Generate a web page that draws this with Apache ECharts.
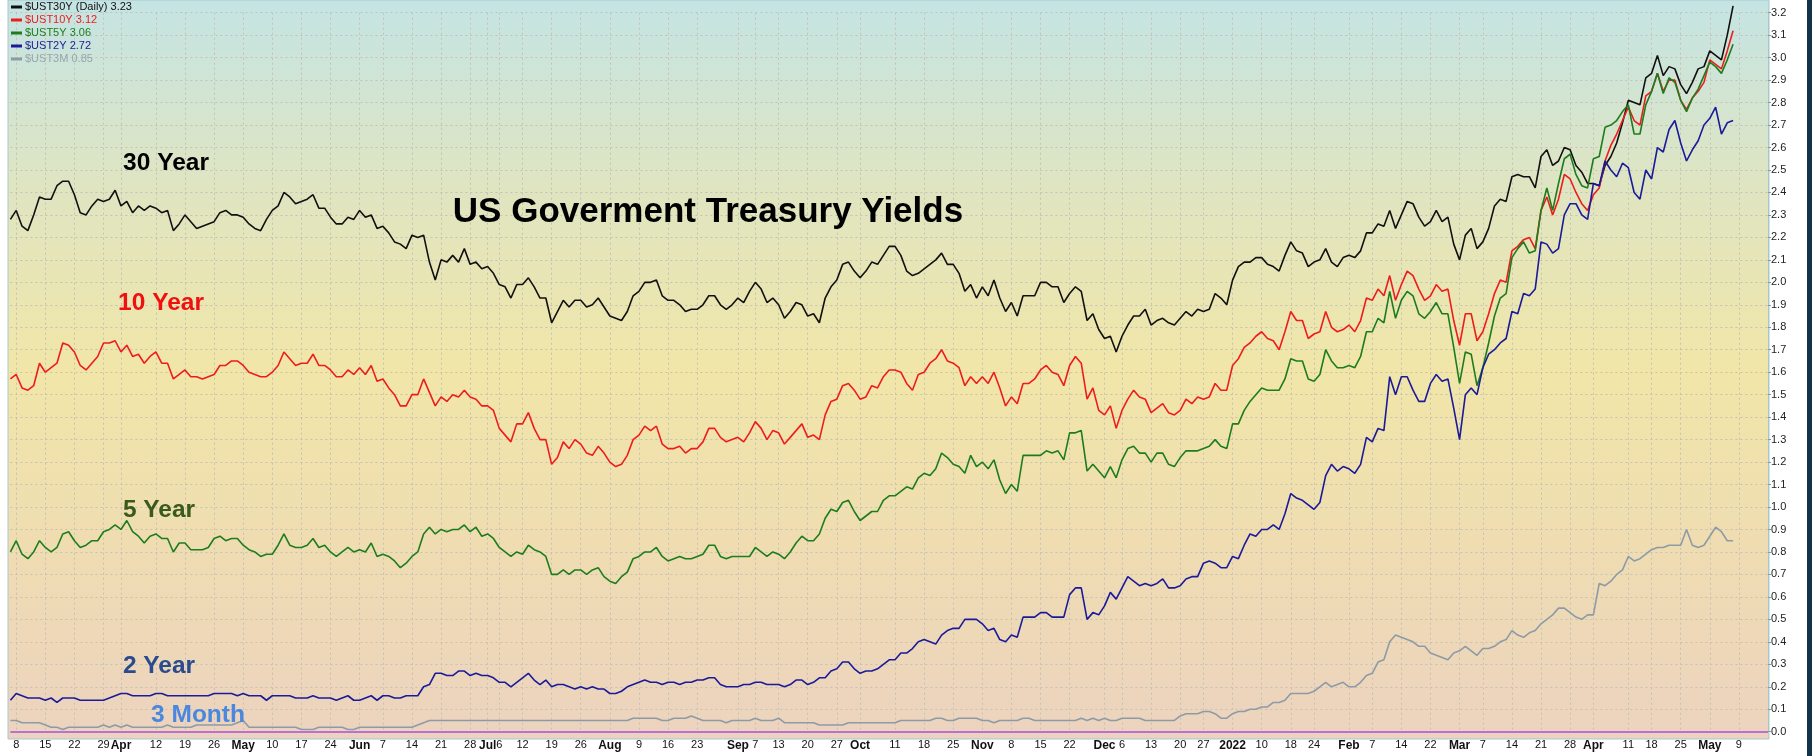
<!DOCTYPE html>
<html>
<head>
<meta charset="utf-8">
<title>US Goverment Treasury Yields</title>
<script src="https://cdn.jsdelivr.net/npm/echarts@6/dist/echarts.min.js"></script>
<style>
  html, body { margin: 0; padding: 0; background: #ffffff; }
  #chart { width: 1812px; height: 756px; }
</style>
</head>
<body>
<div id="chart"></div>
<script>
// Trading calendar: weekdays from 2021-03-05 through 2022-05-16, minus market holidays
const startDate = '2021-03-05';
const endDate = '2022-05-16';
const holidays = ['2021-04-02', '2021-05-31', '2021-07-05', '2021-09-06', '2021-11-25',
  '2021-12-24', '2022-01-17', '2022-02-21', '2022-04-15'];

// Week-start / month-start tick labels on the date axis
const tickLabels = [
  ['2021-03-08', '8'], ['2021-03-15', '15'], ['2021-03-22', '22'], ['2021-03-29', '29'],
  ['2021-04-01', 'Apr'], ['2021-04-12', '12'], ['2021-04-19', '19'], ['2021-04-26', '26'],
  ['2021-05-03', 'May'], ['2021-05-10', '10'], ['2021-05-17', '17'], ['2021-05-24', '24'],
  ['2021-06-01', 'Jun'], ['2021-06-07', '7'], ['2021-06-14', '14'], ['2021-06-21', '21'], ['2021-06-28', '28'],
  ['2021-07-01', 'Jul'], ['2021-07-06', '6'], ['2021-07-12', '12'], ['2021-07-19', '19'], ['2021-07-26', '26'],
  ['2021-08-02', 'Aug'], ['2021-08-09', '9'], ['2021-08-16', '16'], ['2021-08-23', '23'],
  ['2021-09-01', 'Sep'], ['2021-09-07', '7'], ['2021-09-13', '13'], ['2021-09-20', '20'], ['2021-09-27', '27'],
  ['2021-10-01', 'Oct'], ['2021-10-11', '11'], ['2021-10-18', '18'], ['2021-10-25', '25'],
  ['2021-11-01', 'Nov'], ['2021-11-08', '8'], ['2021-11-15', '15'], ['2021-11-22', '22'],
  ['2021-12-01', 'Dec'], ['2021-12-06', '6'], ['2021-12-13', '13'], ['2021-12-20', '20'], ['2021-12-27', '27'],
  ['2022-01-03', '2022'], ['2022-01-10', '10'], ['2022-01-18', '18'], ['2022-01-24', '24'],
  ['2022-02-01', 'Feb'], ['2022-02-07', '7'], ['2022-02-14', '14'], ['2022-02-22', '22'],
  ['2022-03-01', 'Mar'], ['2022-03-07', '7'], ['2022-03-14', '14'], ['2022-03-21', '21'], ['2022-03-28', '28'],
  ['2022-04-01', 'Apr'], ['2022-04-11', '11'], ['2022-04-18', '18'], ['2022-04-25', '25'],
  ['2022-05-02', 'May'], ['2022-05-09', '9']
];

// Daily closing yields (%), one row per trading week, starting Fri 2021-03-05
const ust30y = [
  2.28,
  2.32, 2.25, 2.23, 2.30, 2.38,
  2.37, 2.37, 2.43, 2.45, 2.45,
  2.39, 2.31, 2.30, 2.34, 2.37,
  2.36, 2.37, 2.41, 2.34,
  2.36, 2.31, 2.34, 2.32, 2.34,
  2.33, 2.31, 2.32, 2.23, 2.26,
  2.30, 2.27, 2.24, 2.25, 2.26,
  2.27, 2.31, 2.32, 2.30, 2.30,
  2.29, 2.26, 2.24, 2.23, 2.28,
  2.32, 2.34, 2.40, 2.38, 2.35,
  2.36, 2.37, 2.39, 2.33, 2.33,
  2.29, 2.26, 2.26, 2.29, 2.28,
  2.32, 2.29, 2.30, 2.24,
  2.25, 2.22, 2.18, 2.17, 2.15,
  2.21, 2.20, 2.21, 2.09, 2.01,
  2.10, 2.09, 2.12, 2.09, 2.15,
  2.08, 2.09, 2.06, 2.07, 2.04,
  1.99, 1.98, 1.93, 1.99,
  1.99, 2.02, 1.98, 1.93, 1.93,
  1.82, 1.87, 1.92, 1.89, 1.92,
  1.92, 1.89, 1.90, 1.93, 1.89,
  1.85, 1.84, 1.83, 1.87, 1.94,
  1.96, 2.00, 2.00, 2.01, 1.94,
  1.92, 1.92, 1.90, 1.87, 1.88,
  1.88, 1.90, 1.94, 1.94, 1.90,
  1.88, 1.90, 1.93, 1.91, 1.96,
  2.00, 1.97, 1.91, 1.93,
  1.90, 1.84, 1.87, 1.91, 1.90,
  1.85, 1.86, 1.82, 1.93, 1.98,
  2.01, 2.08, 2.09, 2.05, 2.02,
  2.05, 2.09, 2.08, 2.12, 2.16,
  2.16, 2.12, 2.05, 2.03, 2.04,
  2.06, 2.08, 2.10, 2.13, 2.08,
  2.08, 2.04, 1.96, 1.99, 1.93,
  1.98, 1.94, 2.01, 1.93, 1.87,
  1.91, 1.85, 1.94, 1.94, 1.94,
  2.00, 2.00, 1.98, 1.98, 1.91,
  1.95, 1.98, 1.96, 1.83,
  1.86, 1.79, 1.75, 1.76, 1.69,
  1.76, 1.81, 1.85, 1.85, 1.88,
  1.81, 1.83, 1.84, 1.82, 1.81,
  1.84, 1.87, 1.85, 1.88,
  1.87, 1.88, 1.95, 1.93, 1.90,
  2.01, 2.07, 2.09, 2.09, 2.11,
  2.11, 2.08, 2.07, 2.05, 2.12,
  2.18, 2.14, 2.13, 2.07,
  2.09, 2.10, 2.15, 2.09, 2.07,
  2.11, 2.12, 2.11, 2.14, 2.22,
  2.22, 2.26, 2.25, 2.32, 2.24,
  2.30, 2.36, 2.35, 2.29, 2.25,
  2.27, 2.32, 2.27, 2.29,
  2.17, 2.10, 2.21, 2.24, 2.15,
  2.18, 2.24, 2.34, 2.37, 2.36,
  2.47, 2.48, 2.47, 2.47, 2.42,
  2.56, 2.59, 2.52, 2.54, 2.60,
  2.59, 2.52, 2.49, 2.44, 2.44,
  2.43, 2.52, 2.56, 2.62, 2.71,
  2.81, 2.80, 2.79, 2.91,
  2.93, 3.01, 2.92, 2.96, 2.95,
  2.88, 2.84, 2.89, 2.95, 2.96,
  3.03, 3.01, 2.99, 3.10, 3.23
];

const ust10y = [
  1.57,
  1.59, 1.53, 1.52, 1.54, 1.64,
  1.60, 1.62, 1.64, 1.73, 1.72,
  1.69, 1.63, 1.61, 1.64, 1.67,
  1.73, 1.73, 1.74, 1.69,
  1.72, 1.67, 1.68, 1.64, 1.67,
  1.69, 1.64, 1.64, 1.57, 1.59,
  1.61, 1.58, 1.58, 1.57, 1.58,
  1.59, 1.63, 1.63, 1.65, 1.65,
  1.63, 1.60, 1.59, 1.58, 1.58,
  1.60, 1.63, 1.69, 1.66, 1.63,
  1.64, 1.64, 1.68, 1.63, 1.63,
  1.61, 1.58, 1.58, 1.61, 1.59,
  1.62, 1.59, 1.63, 1.56,
  1.57, 1.53, 1.50, 1.45, 1.45,
  1.50, 1.50, 1.57, 1.51, 1.45,
  1.49, 1.47, 1.50, 1.49, 1.52,
  1.49, 1.48, 1.45, 1.45, 1.43,
  1.35, 1.32, 1.29, 1.37,
  1.37, 1.42, 1.35, 1.30, 1.30,
  1.19, 1.22, 1.29, 1.26, 1.30,
  1.28, 1.24, 1.23, 1.27, 1.24,
  1.20, 1.18, 1.19, 1.23, 1.30,
  1.32, 1.36, 1.34, 1.36, 1.28,
  1.26, 1.26, 1.27, 1.24, 1.26,
  1.26, 1.29, 1.35, 1.35, 1.31,
  1.29, 1.30, 1.31, 1.29, 1.33,
  1.38, 1.35, 1.30, 1.34,
  1.33, 1.28, 1.31, 1.34, 1.37,
  1.31, 1.32, 1.30, 1.41, 1.47,
  1.48, 1.54, 1.55, 1.52, 1.48,
  1.49, 1.54, 1.53, 1.58, 1.61,
  1.61, 1.60, 1.55, 1.52, 1.59,
  1.60, 1.64, 1.66, 1.70, 1.65,
  1.64, 1.62, 1.54, 1.58, 1.55,
  1.58, 1.55, 1.60, 1.53, 1.45,
  1.49, 1.46, 1.55, 1.55, 1.57,
  1.61, 1.63, 1.60, 1.59, 1.54,
  1.63, 1.67, 1.64, 1.48,
  1.53, 1.43, 1.41, 1.45, 1.35,
  1.43, 1.48, 1.52, 1.49, 1.48,
  1.42, 1.44, 1.46, 1.42, 1.41,
  1.43, 1.48, 1.46, 1.49,
  1.48, 1.49, 1.55, 1.52, 1.52,
  1.63, 1.66, 1.71, 1.73, 1.76,
  1.78, 1.75, 1.74, 1.70, 1.78,
  1.87, 1.83, 1.83, 1.75,
  1.77, 1.78, 1.87, 1.80, 1.78,
  1.79, 1.81, 1.78, 1.83, 1.93,
  1.92, 1.97, 1.94, 2.03, 1.92,
  1.99, 2.05, 2.03, 1.97, 1.92,
  1.94, 1.99, 1.96, 1.97,
  1.83, 1.72, 1.86, 1.86, 1.74,
  1.78, 1.86, 1.95, 2.01, 2.00,
  2.14, 2.16, 2.19, 2.20, 2.15,
  2.32, 2.38, 2.30, 2.37, 2.48,
  2.46, 2.40, 2.35, 2.32, 2.39,
  2.42, 2.54, 2.61, 2.66, 2.72,
  2.78, 2.72, 2.70, 2.83,
  2.85, 2.93, 2.85, 2.90, 2.90,
  2.81, 2.77, 2.82, 2.85, 2.89,
  2.99, 2.97, 2.95, 3.03, 3.12
];

const ust5y = [
  0.80,
  0.85, 0.79, 0.77, 0.80, 0.85,
  0.82, 0.80, 0.82, 0.88, 0.89,
  0.85, 0.82, 0.83, 0.85, 0.85,
  0.89, 0.90, 0.92, 0.90,
  0.94, 0.89, 0.87, 0.84, 0.87,
  0.88, 0.86, 0.86, 0.80, 0.84,
  0.84, 0.81, 0.81, 0.81, 0.82,
  0.86, 0.87, 0.85, 0.86, 0.86,
  0.83, 0.81, 0.80, 0.78, 0.79,
  0.79, 0.83, 0.88, 0.83, 0.82,
  0.82, 0.83, 0.86, 0.82, 0.83,
  0.80, 0.78, 0.80, 0.82, 0.80,
  0.81, 0.80, 0.84, 0.78,
  0.79, 0.78, 0.76, 0.73, 0.75,
  0.78, 0.80, 0.88, 0.91, 0.88,
  0.90, 0.89, 0.90, 0.90, 0.92,
  0.89, 0.91, 0.87, 0.88, 0.86,
  0.82, 0.80, 0.78, 0.80,
  0.79, 0.83, 0.81, 0.80, 0.78,
  0.70, 0.70, 0.72, 0.70, 0.72,
  0.72, 0.70, 0.72, 0.73, 0.69,
  0.67, 0.66, 0.69, 0.71, 0.77,
  0.78, 0.80, 0.80, 0.82, 0.78,
  0.76, 0.77, 0.78, 0.77, 0.77,
  0.78, 0.79, 0.83, 0.83, 0.78,
  0.77, 0.78, 0.78, 0.78, 0.78,
  0.82, 0.80, 0.78, 0.80,
  0.79, 0.77, 0.80, 0.84, 0.87,
  0.85, 0.85, 0.88, 0.95, 0.99,
  0.98, 1.02, 1.03, 0.98, 0.94,
  0.96, 0.98, 0.98, 1.03, 1.05,
  1.05, 1.07, 1.09, 1.08, 1.13,
  1.15, 1.14, 1.17, 1.24, 1.22,
  1.19, 1.18, 1.15, 1.23, 1.18,
  1.20, 1.17, 1.21, 1.12, 1.06,
  1.10, 1.07, 1.23, 1.23, 1.23,
  1.23, 1.25, 1.24, 1.25, 1.21,
  1.33, 1.33, 1.34, 1.16,
  1.19, 1.16, 1.13, 1.18, 1.13,
  1.21, 1.26, 1.27, 1.24, 1.24,
  1.20, 1.24, 1.24, 1.19, 1.18,
  1.22, 1.25, 1.25, 1.25,
  1.26, 1.27, 1.30, 1.27, 1.26,
  1.37, 1.37, 1.43, 1.47, 1.50,
  1.53, 1.52, 1.52, 1.52, 1.57,
  1.66, 1.65, 1.65, 1.57,
  1.56, 1.59, 1.70, 1.65, 1.62,
  1.62, 1.63, 1.62, 1.67, 1.78,
  1.78, 1.84, 1.82, 1.96, 1.84,
  1.92, 1.96, 1.94, 1.86, 1.84,
  1.87, 1.91, 1.86, 1.86,
  1.71, 1.55, 1.69, 1.68, 1.54,
  1.62, 1.73, 1.85, 1.93, 1.95,
  2.11, 2.15, 2.18, 2.13, 2.14,
  2.32, 2.42, 2.32, 2.44, 2.55,
  2.57, 2.48, 2.43, 2.42, 2.55,
  2.56, 2.69, 2.70, 2.72, 2.76,
  2.79, 2.66, 2.66, 2.79,
  2.85, 2.93, 2.84, 2.91, 2.89,
  2.81, 2.76, 2.82, 2.86, 2.92,
  2.98, 2.96, 2.93, 2.99, 3.06
];

const ust2y = [
  0.14,
  0.17, 0.16, 0.15, 0.15, 0.15,
  0.14, 0.15, 0.13, 0.15, 0.15,
  0.15, 0.14, 0.14, 0.14, 0.14,
  0.14, 0.15, 0.16, 0.17,
  0.17, 0.16, 0.16, 0.16, 0.16,
  0.17, 0.17, 0.16, 0.16, 0.16,
  0.16, 0.16, 0.16, 0.16, 0.16,
  0.17, 0.17, 0.17, 0.17, 0.16,
  0.17, 0.16, 0.16, 0.16, 0.14,
  0.16, 0.16, 0.16, 0.16, 0.15,
  0.15, 0.15, 0.16, 0.15, 0.15,
  0.15, 0.14, 0.15, 0.16, 0.14,
  0.14, 0.15, 0.16, 0.14,
  0.16, 0.16, 0.15, 0.15, 0.16,
  0.16, 0.16, 0.20, 0.21, 0.26,
  0.26, 0.25, 0.25, 0.27, 0.27,
  0.25, 0.26, 0.25, 0.25, 0.24,
  0.22, 0.22, 0.20, 0.22,
  0.24, 0.26, 0.23, 0.21, 0.23,
  0.20, 0.21, 0.21, 0.20, 0.19,
  0.20, 0.19, 0.20, 0.19, 0.19,
  0.17, 0.17, 0.18, 0.20, 0.21,
  0.22, 0.23, 0.22, 0.22, 0.21,
  0.22, 0.22, 0.21, 0.22, 0.22,
  0.23, 0.23, 0.24, 0.24, 0.21,
  0.20, 0.20, 0.20, 0.21, 0.21,
  0.22, 0.22, 0.21, 0.21,
  0.21, 0.20, 0.21, 0.23, 0.23,
  0.21, 0.22, 0.24, 0.24, 0.27,
  0.28, 0.31, 0.31, 0.28, 0.26,
  0.27, 0.27, 0.28, 0.30, 0.32,
  0.32, 0.35, 0.35, 0.37, 0.40,
  0.41, 0.40, 0.39, 0.43, 0.45,
  0.46, 0.46, 0.50, 0.50, 0.50,
  0.48, 0.45, 0.46, 0.41, 0.40,
  0.43, 0.42, 0.51, 0.51, 0.51,
  0.53, 0.53, 0.51, 0.51, 0.51,
  0.61, 0.64, 0.64, 0.50,
  0.53, 0.52, 0.56, 0.62, 0.59,
  0.64, 0.69, 0.67, 0.65, 0.66,
  0.65, 0.66, 0.68, 0.64, 0.64,
  0.65, 0.68, 0.69, 0.69,
  0.75, 0.76, 0.75, 0.73, 0.73,
  0.78, 0.77, 0.83, 0.88, 0.87,
  0.90, 0.90, 0.92, 0.90, 0.97,
  1.06, 1.04, 1.03, 1.01,
  0.99, 1.02, 1.14, 1.19, 1.16,
  1.18, 1.17, 1.15, 1.19, 1.31,
  1.29, 1.35, 1.34, 1.58, 1.50,
  1.58, 1.58, 1.52, 1.47, 1.47,
  1.55, 1.59, 1.56, 1.57,
  1.44, 1.30, 1.50, 1.53, 1.50,
  1.62, 1.68, 1.70, 1.73, 1.75,
  1.87, 1.86, 1.95, 1.94, 1.97,
  2.18, 2.17, 2.13, 2.15, 2.30,
  2.35, 2.35, 2.30, 2.28, 2.44,
  2.43, 2.54, 2.50, 2.47, 2.53,
  2.51, 2.40, 2.37, 2.50,
  2.46, 2.60, 2.58, 2.68, 2.72,
  2.62, 2.54, 2.59, 2.63, 2.70,
  2.73, 2.78, 2.66, 2.71, 2.72
];

const ust3m = [
  0.05,
  0.05, 0.04, 0.04, 0.04, 0.04,
  0.03, 0.02, 0.02, 0.01, 0.02,
  0.02, 0.02, 0.02, 0.02, 0.02,
  0.03, 0.02, 0.03, 0.02,
  0.03, 0.02, 0.02, 0.02, 0.02,
  0.02, 0.02, 0.03, 0.02, 0.02,
  0.02, 0.02, 0.03, 0.03, 0.03,
  0.03, 0.03, 0.03, 0.03, 0.04,
  0.05, 0.02, 0.02, 0.02, 0.02,
  0.02, 0.02, 0.02, 0.02, 0.02,
  0.01, 0.01, 0.01, 0.02, 0.02,
  0.02, 0.02, 0.02, 0.01, 0.01,
  0.02, 0.02, 0.02, 0.02,
  0.02, 0.02, 0.02, 0.02, 0.02,
  0.02, 0.03, 0.04, 0.05, 0.05,
  0.05, 0.05, 0.05, 0.05, 0.05,
  0.05, 0.05, 0.05, 0.05, 0.05,
  0.05, 0.05, 0.05, 0.05,
  0.05, 0.05, 0.05, 0.05, 0.05,
  0.05, 0.05, 0.05, 0.05, 0.05,
  0.05, 0.05, 0.05, 0.05, 0.05,
  0.05, 0.05, 0.05, 0.05, 0.06,
  0.06, 0.06, 0.06, 0.06, 0.05,
  0.05, 0.06, 0.06, 0.06, 0.07,
  0.06, 0.05, 0.05, 0.05, 0.05,
  0.04, 0.05, 0.05, 0.05, 0.05,
  0.06, 0.05, 0.05, 0.05,
  0.06, 0.04, 0.04, 0.04, 0.04,
  0.04, 0.04, 0.03, 0.03, 0.03,
  0.03, 0.03, 0.04, 0.04, 0.04,
  0.04, 0.04, 0.04, 0.04, 0.04,
  0.04, 0.05, 0.05, 0.05, 0.05,
  0.05, 0.05, 0.06, 0.06, 0.05,
  0.05, 0.06, 0.06, 0.06, 0.06,
  0.05, 0.05, 0.04, 0.05, 0.05,
  0.05, 0.05, 0.06, 0.06, 0.05,
  0.05, 0.05, 0.05, 0.05, 0.05,
  0.05, 0.05, 0.06, 0.05,
  0.06, 0.05, 0.06, 0.05, 0.05,
  0.06, 0.06, 0.06, 0.06, 0.05,
  0.05, 0.05, 0.05, 0.05, 0.05,
  0.07, 0.08, 0.08, 0.08,
  0.09, 0.09, 0.08, 0.06, 0.06,
  0.08, 0.09, 0.09, 0.10, 0.10,
  0.11, 0.11, 0.13, 0.13, 0.14,
  0.17, 0.17, 0.17, 0.17,
  0.18, 0.20, 0.22, 0.20, 0.21,
  0.22, 0.20, 0.20, 0.22, 0.25,
  0.26, 0.31, 0.32, 0.40, 0.43,
  0.42, 0.41, 0.40, 0.38, 0.38,
  0.35, 0.34, 0.33, 0.32,
  0.35, 0.36, 0.38, 0.36, 0.34,
  0.37, 0.37, 0.38, 0.40, 0.41,
  0.45, 0.43, 0.42, 0.44, 0.45,
  0.48, 0.50, 0.52, 0.55, 0.55,
  0.53, 0.51, 0.50, 0.52, 0.52,
  0.66, 0.65, 0.67, 0.70, 0.72,
  0.78, 0.76, 0.77, 0.79,
  0.81, 0.82, 0.82, 0.83, 0.83,
  0.83, 0.90, 0.83, 0.82, 0.83,
  0.87, 0.91, 0.89, 0.85, 0.85
];

// Build the list of trading days used as axis categories
function buildTradingDays(from, to, skip) {
  const out = [];
  const skipSet = new Set(skip);
  const [y0, m0, d0] = from.split('-').map(Number);
  const [y1, m1, d1] = to.split('-').map(Number);
  let t = Date.UTC(y0, m0 - 1, d0);
  const end = Date.UTC(y1, m1 - 1, d1);
  while (t <= end) {
    const d = new Date(t);
    const dow = d.getUTCDay();
    const s = d.toISOString().slice(0, 10);
    if (dow !== 0 && dow !== 6 && !skipSet.has(s)) out.push(s);
    t += 86400000;
  }
  return out;
}
const categories = buildTradingDays(startDate, endDate, holidays);
const labelMap = new Map(tickLabels);
const boldLabels = new Set(['Apr', 'May', 'Jun', 'Jul', 'Aug', 'Sep', 'Oct', 'Nov', 'Dec', 'Jan', 'Feb', 'Mar', '2022']);
const showTick = (idx, value) => labelMap.has(value);

const seriesDefs = [
  { name: '$UST30Y', legend: '$UST30Y (Daily)', data: ust30y, color: '#101010', text: '#111111' },
  { name: '$UST10Y', legend: '$UST10Y', data: ust10y, color: '#ee1c1c', text: '#ee1c1c' },
  { name: '$UST5Y', legend: '$UST5Y', data: ust5y, color: '#1d7d1d', text: '#1d7d1d' },
  { name: '$UST2Y', legend: '$UST2Y', data: ust2y, color: '#1a1a9a', text: '#1a1a9a' },
  { name: '$UST3M', legend: '$UST3M', data: ust3m, color: '#8d9ba6', text: '#9aa4ad' }
];

const FONT = '"Liberation Sans", Arial, sans-serif';

const chart = echarts.init(document.getElementById('chart'), null, { renderer: 'canvas' });

const option = {
  animation: false,
  backgroundColor: '#ffffff',
  grid: { left: 10.4, right: 44, top: 12.7, bottom: 24.3, containLabel: false },
  legend: {
    orient: 'vertical',
    left: 11,
    top: 1,
    itemGap: 1,
    itemWidth: 11,
    itemHeight: 3,
    icon: 'rect',
    selectedMode: false,
    padding: 0,
    textStyle: { fontFamily: FONT, fontSize: 11, lineHeight: 12, padding: [0, 0, 0, -2] },
    data: seriesDefs.map(s => ({ name: s.name, textStyle: { color: s.text } })),
    formatter: name => {
      const s = seriesDefs.find(d => d.name === name);
      return s.legend + ' ' + s.data[s.data.length - 1].toFixed(2);
    }
  },
  xAxis: {
    type: 'category',
    data: categories,
    boundaryGap: false,
    axisLine: { show: false },
    axisTick: { show: false },
    axisLabel: {
      interval: showTick,
      margin: 8,
      fontFamily: FONT,
      fontSize: 11,
      color: '#111',
      formatter: value => {
        const l = labelMap.get(value) || '';
        return boldLabels.has(l) ? '{b|' + l + '}' : l;
      },
      rich: { b: { fontFamily: FONT, fontSize: 12, fontWeight: 'bold', color: '#111' } }
    },
    splitLine: {
      show: true,
      interval: showTick,
      lineStyle: { color: '#c4c2b4', width: 1, type: [2, 3] }
    }
  },
  yAxis: {
    type: 'value',
    position: 'right',
    min: 0,
    max: 3.2,
    interval: 0.1,
    axisLine: { show: true, lineStyle: { color: '#a9c7c9', width: 1 } },
    axisTick: { show: true, length: 3, inside: false, lineStyle: { color: '#8a9a9c' } },
    axisLabel: {
      margin: 3,
      fontFamily: FONT,
      fontSize: 11,
      color: '#222',
      formatter: v => v.toFixed(1)
    },
    splitLine: { show: true, lineStyle: { color: '#c4c2b4', width: 1, type: [2, 3] } }
  },
  graphic: [
    // plot panel background
    {
      type: 'rect', z: -10, silent: true,
      shape: { x: 8, y: 0, width: 1761, height: 739 },
      style: {
        fill: new echarts.graphic.LinearGradient(0, 0, 0, 1, [
          { offset: 0, color: '#c4e4e4' },
          { offset: 0.25, color: '#dfe5c2' },
          { offset: 0.5, color: '#f1e6a8' },
          { offset: 0.75, color: '#efdcb2' },
          { offset: 1, color: '#ecd3bf' }
        ]),
        stroke: '#a9c7c9', lineWidth: 1
      }
    },
    // right frame strip
    { type: 'rect', z: -10, silent: true, shape: { x: 1807, y: 0, width: 5, height: 756 }, style: { fill: '#12344a' } },
    // annotations
    {
      type: 'text', z: 50, silent: true, x: 708, y: 212,
      style: { text: 'US Goverment Treasury Yields', font: 'bold 35px ' + FONT, fill: '#000', align: 'center', verticalAlign: 'middle' }
    },
    {
      type: 'text', z: 50, silent: true, x: 166, y: 163,
      style: { text: '30 Year', font: 'bold 24.5px ' + FONT, fill: '#000', align: 'center', verticalAlign: 'middle' }
    },
    {
      type: 'text', z: 50, silent: true, x: 161, y: 303,
      style: { text: '10 Year', font: 'bold 24.5px ' + FONT, fill: '#f01010', align: 'center', verticalAlign: 'middle' }
    },
    {
      type: 'text', z: 50, silent: true, x: 159, y: 510,
      style: { text: '5 Year', font: 'bold 24.5px ' + FONT, fill: '#3a5a1c', align: 'center', verticalAlign: 'middle' }
    },
    {
      type: 'text', z: 50, silent: true, x: 159, y: 666,
      style: { text: '2 Year', font: 'bold 24.5px ' + FONT, fill: '#2a4b8c', align: 'center', verticalAlign: 'middle' }
    },
    {
      type: 'text', z: 50, silent: true, x: 198, y: 715,
      style: { text: '3 Month', font: 'bold 24.5px ' + FONT, fill: '#4a88e0', align: 'center', verticalAlign: 'middle' }
    }
  ],
  series: seriesDefs.map((s, i) => {
    const ser = {
      name: s.name,
      type: 'line',
      data: s.data,
      showSymbol: false,
      symbol: 'none',
      clip: false,
      silent: true,
      lineStyle: { color: s.color, width: 1.6 },
      itemStyle: { color: s.color },
      z: 3 + i
    };
    if (s.name === '$UST3M') {
      ser.markLine = {
        silent: true,
        symbol: 'none',
        label: { show: false },
        lineStyle: { color: '#bd6fd6', width: 2, type: 'solid' },
        data: [{ yAxis: 0 }]
      };
    }
    return ser;
  })
};

chart.setOption(option);
</script>
</body>
</html>
